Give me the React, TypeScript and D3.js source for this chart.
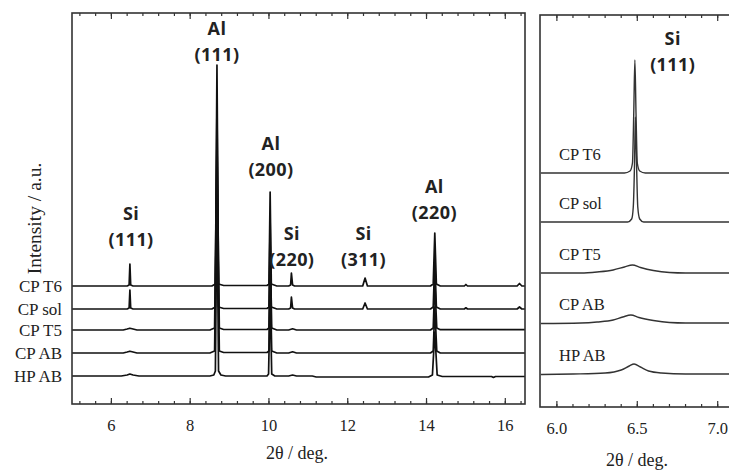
import * as d3 from 'd3'

// sample names, top to bottom
const SERIES = ['CP T6', 'CP sol', 'CP T5', 'CP AB', 'HP AB']

// vertical stacking offsets (a.u.)
const WIDE_OFFSETS = [90, 67, 46, 23, 0]
const ZOOM_OFFSETS = [201, 152, 101, 51, 0]

// wide scan, 2θ vs intensity (a.u.)
const WIDE_CP_T6 = [
  [5.0, 0], [6.4, 0], [6.45, 1], [6.47, 22], [6.49, 1], [6.55, 0],
  [8.55, 0], [8.64, 2], [8.68, 221], [8.72, 2], [8.85, 0.5],
  [9.95, 0.5], [10.0, 2], [10.03, 94], [10.06, 2], [10.2, 0],
  [10.5, 0], [10.55, 1], [10.57, 13], [10.6, 1], [10.65, 0],
  [12.38, 0], [12.44, 8], [12.5, 0],
  [14.1, 0], [14.17, 2], [14.21, 53], [14.25, 2], [14.35, 0],
  [14.96, 0], [15.0, 1.5], [15.04, 0],
  [16.3, 0], [16.36, 2.5], [16.42, 0], [16.5, 0],
]
const WIDE_CP_SOL = [
  [5.0, 0], [6.4, 0], [6.45, 1], [6.47, 19], [6.49, 1], [6.55, 0],
  [8.55, 0], [8.64, 2], [8.68, 205], [8.72, 2], [8.85, 0.5],
  [9.95, 0.5], [10.0, 2], [10.03, 88], [10.06, 2], [10.2, 0],
  [10.5, 0], [10.55, 1], [10.57, 12], [10.6, 1], [10.65, 0],
  [12.38, 0], [12.44, 6], [12.5, 0],
  [14.1, 0], [14.17, 2], [14.21, 50], [14.25, 2], [14.35, 0],
  [14.96, 0], [15.0, 1.2], [15.04, 0],
  [16.3, 0], [16.36, 2], [16.42, 0], [16.5, 0],
]
const WIDE_CP_T5 = [
  [5.0, 0], [6.3, 0], [6.4, 1], [6.47, 1.8], [6.55, 1], [6.65, 0],
  [8.5, 0], [8.62, 2], [8.68, 190], [8.74, 2], [8.85, 0.5],
  [9.95, 0.5], [10.0, 2], [10.03, 85], [10.07, 2], [10.2, 0],
  [10.5, 0], [10.6, 1.2], [10.7, 0],
  [14.1, 0], [14.17, 2], [14.21, 48], [14.26, 2], [14.35, 0.3],
  [16.5, 0.3],
]
const WIDE_CP_AB = [
  [5.0, 0], [6.3, 0], [6.4, 1], [6.47, 1.8], [6.55, 1], [6.65, 0],
  [8.5, 0], [8.62, 2], [8.68, 185], [8.74, 2], [8.85, 0.5],
  [9.95, 0.5], [10.0, 2], [10.03, 82], [10.07, 2], [10.2, 0],
  [10.5, 0], [10.6, 1.2], [10.7, 0],
  [14.1, 0], [14.17, 2], [14.21, 46], [14.26, 2], [14.35, 0],
  [16.5, 0],
]
const WIDE_HP_AB = [
  [5.0, 0], [6.25, 0], [6.4, 1], [6.47, 2], [6.55, 1], [6.7, 0],
  [8.5, 0], [8.6, 1], [8.64, 5], [8.68, 180], [8.72, 5], [8.78, 1], [8.9, 0],
  [9.95, 0], [9.99, 2], [10.03, 80], [10.07, 2], [10.15, 0],
  [10.5, 0], [10.6, 1], [10.7, 0], [11.1, 0], [11.2, -1],
  [14.05, -1], [14.15, 1], [14.21, 44], [14.27, 1], [14.4, -0.5],
  [15.65, -0.5], [15.7, -1.5], [15.75, -0.5], [16.5, -0.5],
]
const WIDE_DATA = [WIDE_CP_T6, WIDE_CP_SOL, WIDE_CP_T5, WIDE_CP_AB, WIDE_HP_AB]

// zoom on Si (111)
const ZOOM_CP_T6 = [
  [5.9, 0], [6.42, 0], [6.455, 2], [6.47, 10], [6.478, 60], [6.485, 113],
  [6.492, 60], [6.5, 10], [6.515, 2], [6.55, 0], [7.1, 0],
]
const ZOOM_CP_SOL = [
  [5.9, 0], [6.44, 0], [6.465, 3], [6.475, 15], [6.483, 60], [6.488, 105],
  [6.495, 60], [6.503, 15], [6.515, 3], [6.54, 0], [7.1, 0],
]
const ZOOM_CP_T5 = [
  [5.9, 0], [6.15, 0], [6.25, 1], [6.35, 3], [6.42, 6], [6.47, 8],
  [6.52, 5.5], [6.6, 2.5], [6.7, 0.5], [6.8, 0], [7.1, 0],
]
const ZOOM_CP_AB = [
  [5.9, -0.5], [6.15, 0], [6.25, 1], [6.35, 3], [6.41, 6], [6.46, 8],
  [6.51, 5.5], [6.6, 2.5], [6.7, 0.5], [6.8, 0], [7.1, 0],
]
const ZOOM_HP_AB = [
  [5.9, -0.5], [6.1, 0], [6.3, 1], [6.4, 4], [6.45, 8], [6.48, 10],
  [6.52, 7], [6.57, 3], [6.65, 1], [6.8, 0], [7.1, 0],
]
const ZOOM_DATA = [ZOOM_CP_T6, ZOOM_CP_SOL, ZOOM_CP_T5, ZOOM_CP_AB, ZOOM_HP_AB]

// peak annotations: element, reflection, 2θ, label level (a.u.)
const WIDE_PEAKS = [
  { el: 'Si', hkl: '(111)', x: 6.5, at: 130 },
  { el: 'Al', hkl: '(111)', x: 8.68, at: 315 },
  { el: 'Al', hkl: '(200)', x: 10.05, at: 200 },
  { el: 'Si', hkl: '(220)', x: 10.58, at: 110 },
  { el: 'Si', hkl: '(311)', x: 12.4, at: 110 },
  { el: 'Al', hkl: '(220)', x: 14.2, at: 157 },
]
const ZOOM_PEAKS = [{ el: 'Si', hkl: '(111)', x: 6.72, at: 303 }]

const WIDE_MAJOR = [6, 8, 10, 12, 14, 16]
const WIDE_MINOR = d3.range(5.2, 16.5, 0.4)
const ZOOM_MAJOR = [6.0, 6.5, 7.0]
const ZOOM_MINOR = d3.range(6.0, 7.11, 0.1)

const SERIF = '"Liberation Serif", "Times New Roman", serif'
const SANS = '"Open Sans", "Noto Sans", sans-serif'
const FRAME = '#333'

export default function App() {
  const W = 729
  const H = 473

  // wide panel
  const xL = d3.scaleLinear().domain([5, 16.5]).range([72, 525])
  const yL = d3.scaleLinear().domain([-28, 363]).range([404, 13])
  // zoom panel
  const xR = d3.scaleLinear().domain([5.895, 7.12]).range([540, 737])
  const yR = d3.scaleLinear().domain([-33, 359]).range([407, 15])

  const lineFor = (x: any, y: any, off: number, curve: any) =>
    d3
      .line<number[]>()
      .x((d) => x(d[0]))
      .y((d) => y(d[1] + off))
      .curve(curve)

  const ticks = (
    x: any,
    top: number,
    bottom: number,
    values: number[],
    len: number,
  ) =>
    values.map((v, i) => (
      <g key={`${len}-${i}`}>
        <line x1={x(v)} x2={x(v)} y1={bottom} y2={bottom - len} stroke={FRAME} strokeWidth={1.2} />
        <line x1={x(v)} x2={x(v)} y1={top} y2={top + len} stroke={FRAME} strokeWidth={1.2} />
      </g>
    ))

  return (
    <div style={{ position: 'absolute', left: 0, top: 0 }}>
      <svg width={W} height={H} style={{ display: 'block', background: '#fff' }}>
        {/* ---- wide scan ---- */}
        <g>
          {WIDE_DATA.map((s, i) => (
            <path
              key={SERIES[i]}
              d={lineFor(xL, yL, WIDE_OFFSETS[i], d3.curveLinear)(s) ?? undefined}
              fill="none"
              stroke="#111"
              strokeWidth={1.7}
              strokeLinejoin="round"
            />
          ))}
          <rect x={72} y={13} width={453} height={391} fill="none" stroke={FRAME} strokeWidth={1.6} />
          {ticks(xL, 13, 404, WIDE_MINOR, 3)}
          {ticks(xL, 13, 404, WIDE_MAJOR, 6)}
          {WIDE_MAJOR.map((v) => (
            <text key={v} x={xL(v)} y={431} textAnchor="middle" fontFamily={SERIF} fontSize={16.5} fill="#222">
              {v}
            </text>
          ))}
          {SERIES.map((s, i) => (
            <text
              key={s}
              x={62}
              y={yL(WIDE_OFFSETS[i]) + 5.5}
              textAnchor="end"
              fontFamily={SERIF}
              fontSize={17}
              fill="#222"
            >
              {s}
            </text>
          ))}
          {WIDE_PEAKS.map((p, i) => (
            <g key={i} fontFamily={SANS} fontWeight="bold" fontSize={18} fill="#222" textAnchor="middle" letterSpacing={0.4}>
              <text x={xL(p.x)} y={yL(p.at) - 26}>{p.el}</text>
              <text x={xL(p.x)} y={yL(p.at)}>{p.hkl}</text>
            </g>
          ))}
          <text x={297} y={459} textAnchor="middle" fontFamily={SERIF} fontSize={18} fill="#222">
            2θ / deg.
          </text>
          <text
            transform={`translate(41,${(13 + 404) / 2 + 10}) rotate(-90)`}
            textAnchor="middle"
            fontFamily={SERIF}
            fontSize={19.5}
            fill="#222"
          >
            Intensity / a.u.
          </text>
        </g>

        {/* ---- Si (111) zoom ---- */}
        <g>
          {ZOOM_DATA.map((s, i) => (
            <path
              key={SERIES[i]}
              d={lineFor(xR, yR, ZOOM_OFFSETS[i], d3.curveMonotoneX)(s) ?? undefined}
              fill="none"
              stroke="#333"
              strokeWidth={1.4}
            />
          ))}
          <rect x={540} y={15} width={220} height={392} fill="none" stroke={FRAME} strokeWidth={1.6} />
          {ticks(xR, 15, 407, ZOOM_MINOR, 3)}
          {ticks(xR, 15, 407, ZOOM_MAJOR, 6)}
          {ZOOM_MAJOR.map((v) => (
            <text key={v} x={xR(v)} y={434} textAnchor="middle" fontFamily={SERIF} fontSize={16.5} fill="#222">
              {v.toFixed(1)}
            </text>
          ))}
          {SERIES.map((s, i) => (
            <text key={s} x={559} y={yR(ZOOM_OFFSETS[i]) - 13} fontFamily={SERIF} fontSize={16.5} fill="#222">
              {s}
            </text>
          ))}
          {ZOOM_PEAKS.map((p, i) => (
            <g key={i} fontFamily={SANS} fontWeight="bold" fontSize={18} fill="#222" textAnchor="middle" letterSpacing={0.4}>
              <text x={xR(p.x)} y={yR(p.at) - 26}>{p.el}</text>
              <text x={xR(p.x)} y={yR(p.at)}>{p.hkl}</text>
            </g>
          ))}
          <text x={637} y={466} textAnchor="middle" fontFamily={SERIF} fontSize={18} fill="#222">
            2θ / deg.
          </text>
        </g>
      </svg>
    </div>
  )
}
